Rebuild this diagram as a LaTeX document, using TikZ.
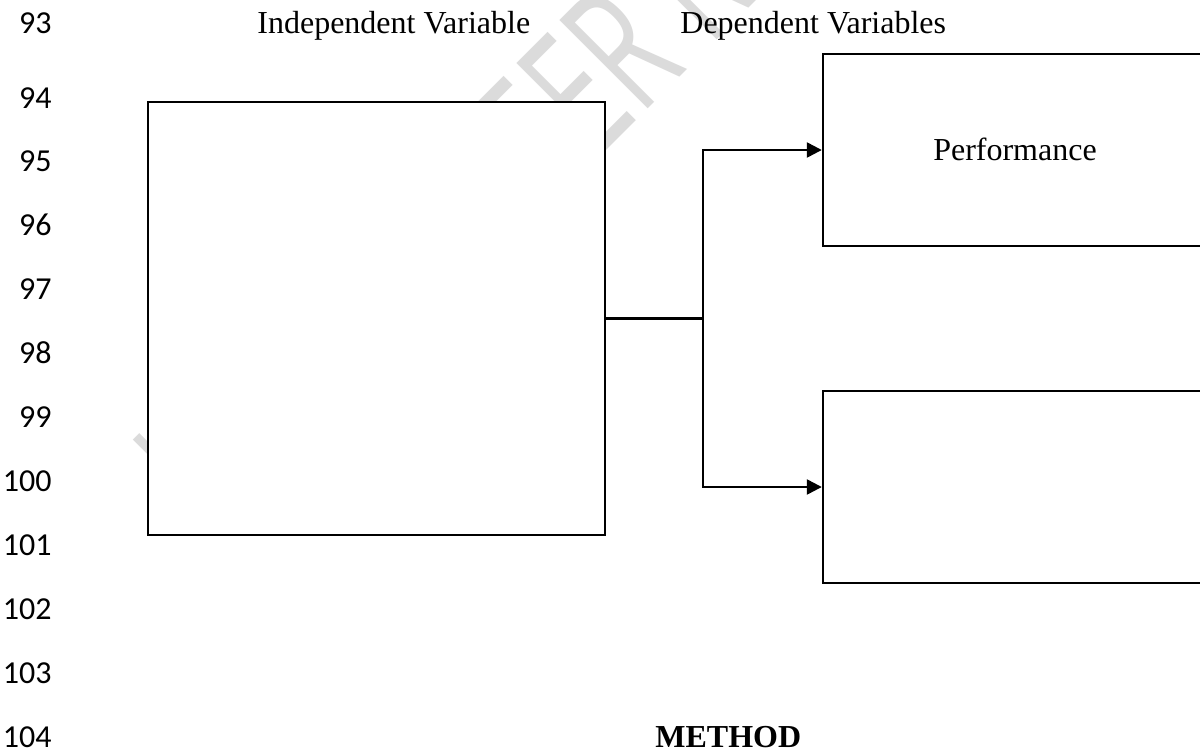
\documentclass[tikz,border=0pt]{standalone}
\usepackage{fontspec}
\setmainfont{Liberation Serif}
\newfontfamily\numfont{Carlito}
\newfontfamily\wmfont{Open Sans}
\usetikzlibrary{arrows.meta}
\begin{document}
\begin{tikzpicture}[x=0.5pt,y=0.5pt,
  txt/.style={inner sep=0pt,font=\fontsize{16}{19}\selectfont},
  lnum/.style={inner sep=0pt,anchor=base east,font=\numfont\fontsize{16}{19}\selectfont},
  varbox/.style={draw=black,line width=1.2pt,fill=white,rectangle,inner sep=0pt},
  link/.style={line width=1.2pt},
  linkarrow/.style={line width=1.2pt,-{Triangle[length=7.5pt,width=7.5pt]}},
  wm/.style={inner sep=0pt,text=black!14,rotate=45,xscale=0.633,font=\wmfont\fontsize{87.5}{90}\selectfont}
]
\clip (0,0) rectangle (1200,-750);
\fill[white] (0,0) rectangle (1200,-750);
% watermark
\coordinate (wmu) at (214,-536);
\coordinate (wmo) at (597,-160);
\node[wm,anchor=base west] (wmA) at (wmu) {UNDER};
\node[wm,anchor=base east] (wmB) at (wmo) {PEE};
\node[wm,anchor=base west] (wmC) at (wmo) {ER R};
% line numbers
\node[lnum] (n93) at (52,-33) {93};
\node[lnum] (n94) at (52,-108) {94};
\node[lnum] (n95) at (52,-171.9) {95};
\node[lnum] (n96) at (52,-235.8) {96};
\node[lnum] (n97) at (52,-299.7) {97};
\node[lnum] (n98) at (52,-363.6) {98};
\node[lnum] (n99) at (52,-427.5) {99};
\node[lnum] (n100) at (52,-491.4) {100};
\node[lnum] (n101) at (52,-555.3) {101};
\node[lnum] (n102) at (52,-619.2) {102};
\node[lnum] (n103) at (52,-683.1) {103};
\node[lnum] (n104) at (52,-747) {104};
% headings
\node[txt,anchor=base west] (hiv) at (257,-33) {Independent Variable};
\node[txt,anchor=base west] (hdv) at (680,-33) {Dependent Variables};
\node[txt,anchor=base west,font=\bfseries\fontsize{16}{19}\selectfont] (meth) at (655,-747) {METHOD};
% boxes (sizes in pt: 1 px = 0.5 pt)
\node[varbox,minimum width=228.5pt,minimum height=216.5pt] (iv) at (376.5,-318.5) {};
\node[varbox,minimum width=192pt,minimum height=96pt] (dv1) at (1015,-150) {};
\node[txt,anchor=base] (perf) at (1015,-160) {Performance};
\node[varbox,minimum width=192pt,minimum height=96pt] (dv2) at (1015,-487) {};
% connectors
\coordinate (j) at (703,-318.5);
\draw[link] (iv.east) -- (j);
\draw[linkarrow] (j) |- (dv1.west);
\draw[linkarrow] (j) |- (dv2.west);
\end{tikzpicture}
\end{document}
